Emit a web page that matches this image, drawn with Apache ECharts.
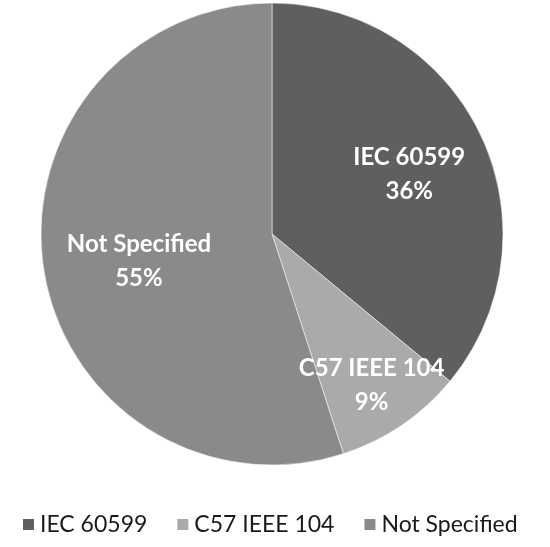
<!DOCTYPE html>
<html>
<head>
<meta charset="utf-8">
<script src="https://cdn.jsdelivr.net/npm/echarts@6/dist/echarts.min.js"></script>
<style>
  html, body { margin: 0; padding: 0; background: #fff; }
  #main { width: 550px; height: 547px; }
</style>
</head>
<body>
<div id="main"></div>
<script>
// slice data
var categories = ['IEC 60599', 'C57 IEEE 104', 'Not Specified'];
var shares = [36, 9, 55];
var colors = ['#5f5f5f', '#aaaaaa', '#8a8a8a'];
// label nudges (px) so labels sit where the original put them
var labelShift = [[30, -9], [33, 53], [-16, 9]];

var chart = echarts.init(document.getElementById('main'), null, { renderer: 'canvas' });

var pieData = categories.map(function (name, i) {
  return { name: name, value: shares[i], itemStyle: { color: colors[i] } };
});

var option = {
  animation: false,
  backgroundColor: '#ffffff',
  legend: {
    data: categories,
    bottom: 6,
    left: 16,
    itemGap: 28,
    itemWidth: 13,
    itemHeight: 13,
    icon: 'rect',
    textStyle: { fontFamily: 'Lato', fontSize: 23, color: '#1a1a1a' }
  },
  series: [{
    type: 'pie',
    center: [272, 234],
    radius: [0, 231],
    startAngle: 90,
    clockwise: true,
    silent: true,
    data: pieData,
    itemStyle: { borderColor: '#ffffff', borderWidth: 0.5 },
    label: {
      show: true,
      position: 'inside',
      formatter: '{b}\n{d}%',
      color: '#ffffff',
      fontFamily: 'Lato',
      fontWeight: 'bold',
      fontSize: 24,
      lineHeight: 34,
      align: 'center'
    },
    labelLine: { show: false },
    labelLayout: function (params) {
      var s = labelShift[params.dataIndex];
      return { dx: s[0], dy: s[1] };
    }
  }]
};

chart.setOption(option);
</script>
</body>
</html>
